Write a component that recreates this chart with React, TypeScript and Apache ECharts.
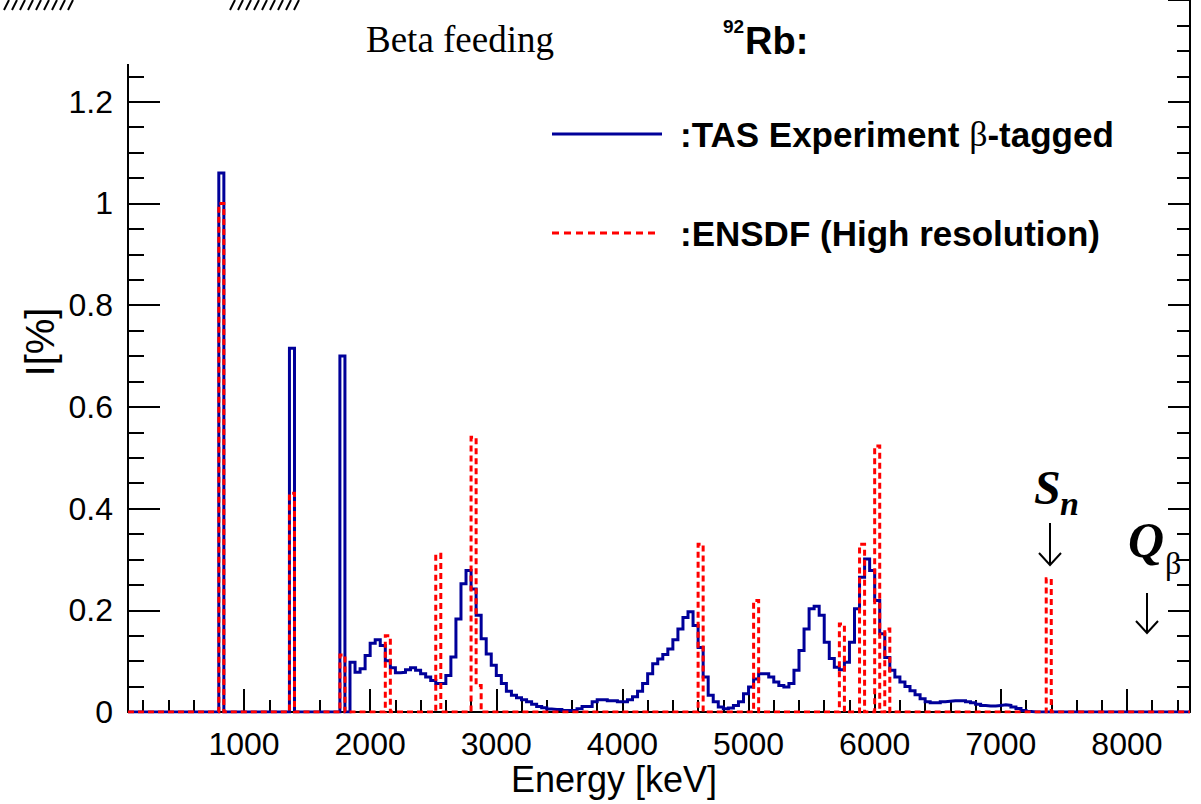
import React, { useEffect, useRef } from "react";
import * as echarts from "echarts";

// ---- axis ranges ----
const X_MIN = 80;
const X_MAX = 8500;
const Y_MIN = 0;
const Y_MAX = 1.4;
const BIN_WIDTH = 40;

// ---- tick labels ----
const xTickLabels = [1000, 2000, 3000, 4000, 5000, 6000, 7000, 8000];
const yTickStep = 0.2;

// ---- TAS experiment (beta-tagged), 40 keV bins ----
const tasPeakStarts = [800, 1360, 1760];
const tasPeakValues = [1.06, 0.715, 0.7];
const tasContinuumStart = 1840;
const tasContinuum = [
  0.098, 0.078, 0.085, 0.111, 0.135, 0.142, 0.131, 0.101, 0.087, 0.077,
  0.078, 0.083, 0.087, 0.082, 0.075, 0.069, 0.062, 0.056, 0.056, 0.072,
  0.108, 0.183, 0.252, 0.278, 0.242, 0.19, 0.144, 0.114, 0.092, 0.072,
  0.056, 0.041, 0.033, 0.028, 0.024, 0.02, 0.015, 0.011, 0.0086, 0.006,
  0.0047, 0.0047, 0.003, 0.003, 0.003, 0.0066, 0.011, 0.011, 0.02, 0.024,
  0.024, 0.022, 0.022, 0.02, 0.02, 0.024, 0.03, 0.041, 0.056, 0.075,
  0.095, 0.104, 0.113, 0.124, 0.142, 0.163, 0.186, 0.197, 0.17, 0.127,
  0.069, 0.033, 0.02, 0.01, 0.0065, 0.008, 0.013, 0.02, 0.036, 0.049,
  0.065, 0.075, 0.075, 0.069, 0.059, 0.052, 0.049, 0.056, 0.082, 0.121,
  0.163, 0.203, 0.208, 0.19, 0.137, 0.105, 0.088, 0.083, 0.098, 0.137,
  0.203, 0.265, 0.301, 0.278, 0.219, 0.154, 0.107, 0.082, 0.069, 0.059,
  0.05, 0.042, 0.034, 0.026, 0.02, 0.018, 0.018, 0.02, 0.021, 0.022,
  0.022, 0.022, 0.02, 0.018, 0.015, 0.013, 0.012, 0.012, 0.013, 0.014,
  0.013, 0.01, 0.007, 0.003, 0.001,
];

// ---- ENSDF (high resolution), 40 keV bins ----
const ensdfStarts = [800, 1360, 1760, 2120, 2520, 2800, 2840, 4600, 5040, 5720, 5880, 6000, 6080, 7360];
const ensdfValues = [1.0, 0.43, 0.112, 0.15, 0.31, 0.54, 0.052, 0.33, 0.219, 0.173, 0.33, 0.523, 0.163, 0.262];

function histogram(starts: number[], values: number[]): number[][] {
  const map = new Map<number, number>();
  starts.forEach((s, i) => map.set(s, values[i]));
  const pts: number[][] = [];
  for (let e = X_MIN; e < X_MAX; e += BIN_WIDTH) pts.push([e, map.get(e) ?? 0]);
  pts.push([X_MAX, 0]);
  return pts;
}

const tasStarts = [
  ...tasPeakStarts,
  ...tasContinuum.map((_, i) => tasContinuumStart + i * BIN_WIDTH),
];
const tasValues = [...tasPeakValues, ...tasContinuum];

const xMinorTicks: number[] = [];
for (let v = 200; v < X_MAX; v += 200) xMinorTicks.push(v);

const SANS = "'Liberation Sans', Arial, Helvetica, sans-serif";
const SERIF = "'Liberation Serif', 'Times New Roman', serif";

function hatch(x0: number) {
  const out: any[] = [];
  for (let i = 0; i < 9; i++) {
    out.push({
      type: "line",
      shape: { x1: x0 + i * 8, y1: 10, x2: x0 + i * 8 + 5, y2: 0 },
      style: { stroke: "#000", lineWidth: 2 },
      z: 101,
    });
  }
  return out;
}

function txt(x: number, y: number, text: string, font: string, align = "left", extra: any = {}) {
  return {
    type: "text",
    x,
    y,
    z: 102,
    ...extra,
    style: {
      text,
      font,
      fill: "#000",
      align,
      textAlign: align,
      verticalAlign: "middle",
      textVerticalAlign: "middle",
      ...(extra.style || {}),
    },
  };
}

function arrow(x: number, y1: number, y2: number) {
  return [
    { type: "line", z: 102, shape: { x1: x, y1, x2: x, y2 }, style: { stroke: "#000", lineWidth: 2 } },
    {
      type: "polyline",
      z: 102,
      shape: { points: [[x - 11, y2 - 12], [x, y2], [x + 11, y2 - 12]] },
      style: { stroke: "#000", lineWidth: 2, fill: "none" },
    },
  ];
}

export default function App() {
  const ref = useRef<HTMLDivElement>(null);
  useEffect(() => {
    const chart = echarts.init(ref.current!, null, { renderer: "svg" });
    const axisLine = { show: true, onZero: false, lineStyle: { color: "#000", width: 2 } };
    const option: any = {
      animation: false,
      backgroundColor: "#fff",
      grid: { left: 128, right: 11, top: -2, bottom: 92, containLabel: false },
      xAxis: [
        {
          type: "value",
          min: X_MIN,
          max: X_MAX,
          position: "bottom",
          axisLine,
          splitLine: { show: false },
          axisTick: {
            show: true,
            inside: true,
            length: 23,
            customValues: xTickLabels,
            lineStyle: { color: "#000", width: 2 },
          },
          axisLabel: {
            show: true,
            customValues: xTickLabels,
            margin: 16,
            color: "#000",
            fontSize: 32,
            fontFamily: SANS,
            formatter: (v: number) => String(v),
          },
        },
        {
          type: "value",
          min: X_MIN,
          max: X_MAX,
          position: "bottom",
          axisLine: { show: false },
          splitLine: { show: false },
          axisLabel: { show: false },
          axisTick: {
            show: true,
            inside: true,
            length: 12,
            customValues: xMinorTicks,
            lineStyle: { color: "#000", width: 2 },
          },
        },
      ],
      yAxis: [
        {
          type: "value",
          min: Y_MIN,
          max: Y_MAX,
          interval: yTickStep,
          position: "left",
          axisLine,
          splitLine: { show: false },
          axisTick: { show: true, inside: true, length: 32, lineStyle: { color: "#000", width: 2 } },
          minorTick: { show: true, splitNumber: 4, length: 16, lineStyle: { color: "#000", width: 2 } },
          minorSplitLine: { show: false },
          axisLabel: {
            margin: 15,
            color: "#000",
            fontSize: 32,
            fontFamily: SANS,
            formatter: (v: number) => (v > 1.25 ? "" : String(parseFloat(v.toFixed(2)))),
          },
        },
        {
          type: "value",
          min: Y_MIN,
          max: Y_MAX,
          interval: yTickStep,
          position: "right",
          axisLine,
          splitLine: { show: false },
          axisTick: { show: true, inside: true, length: 22, lineStyle: { color: "#000", width: 2 } },
          minorTick: { show: true, splitNumber: 4, length: 13, lineStyle: { color: "#000", width: 2 } },
          minorSplitLine: { show: false },
          axisLabel: { show: false },
        },
      ],
      series: [
        {
          name: ":TAS Experiment β-tagged",
          type: "line",
          xAxisIndex: 0,
          yAxisIndex: 0,
          step: "end",
          symbol: "none",
          data: histogram(tasStarts, tasValues),
          lineStyle: { color: "#000099", width: 3, join: "miter" },
          z: 2,
        },
        {
          name: ":ENSDF (High resolution)",
          type: "line",
          xAxisIndex: 0,
          yAxisIndex: 0,
          step: "end",
          symbol: "none",
          data: histogram(ensdfStarts, ensdfValues),
          lineStyle: { color: "#ff0000", width: 3, type: [6, 4], join: "miter" },
          z: 3,
        },
      ],
      graphic: [
        { type: "rect", z: 100, shape: { x: 0, y: 0, width: 1160, height: 64 }, style: { fill: "#fff" } },
        ...hatch(4),
        ...hatch(230),
        txt(460, 39, "Beta feeding", `37px ${SERIF}`, "center"),
        txt(723, 26, "92", `bold 19px ${SANS}`, "left"),
        txt(745, 41, "Rb:", `bold 38px ${SANS}`, "left"),
        // legend
        { type: "line", z: 102, shape: { x1: 552, y1: 134, x2: 662, y2: 134 }, style: { stroke: "#000099", lineWidth: 3 } },
        txt(680, 134, "{a|:TAS Experiment }{b|β}{a|-tagged}", "", "left", {
          style: {
            rich: {
              a: { font: `bold 35px ${SANS}`, fill: "#000" },
              b: { font: `36px ${SERIF}`, fill: "#000" },
            },
          },
        }),
        {
          type: "line",
          z: 102,
          shape: { x1: 552, y1: 233, x2: 656, y2: 233 },
          style: { stroke: "#ff0000", lineWidth: 3, lineDash: [7, 5] },
        },
        txt(680, 233, ":ENSDF (High resolution)", `bold 35px ${SANS}`, "left"),
        // axis titles
        txt(40, 342, "I[%]", `40px ${SANS}`, "center", { rotation: Math.PI / 2 }),
        txt(614, 779, "Energy [keV]", `36px ${SANS}`, "center"),
        // Sn / Qbeta
        txt(1034, 487, "S", `bold italic 48px ${SERIF}`, "left"),
        txt(1060, 503, "n", `bold italic 34px ${SERIF}`, "left"),
        ...arrow(1050, 523, 565),
        txt(1128, 540, "Q", `bold italic 50px ${SERIF}`, "left"),
        txt(1165, 563, "β", `32px ${SERIF}`, "left"),
        ...arrow(1147, 593, 633),
      ],
    };
    chart.setOption(option);
    return () => chart.dispose();
  }, []);
  return (
    <div
      ref={ref}
      style={{ position: "absolute", left: 0, top: 0, width: 1201, height: 804, background: "#fff" }}
    />
  );
}
